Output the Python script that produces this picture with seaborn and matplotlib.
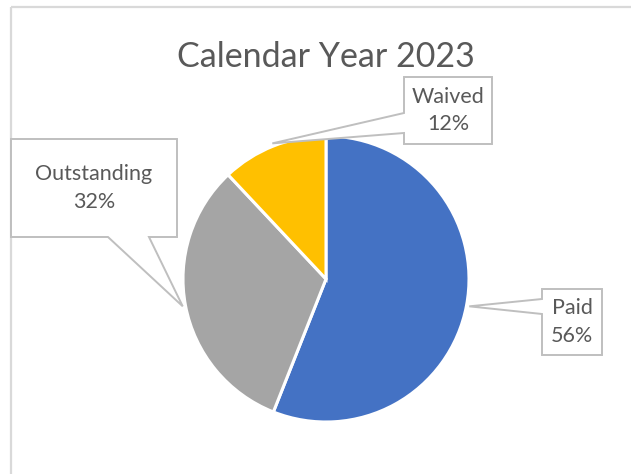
import numpy as np
import matplotlib
matplotlib.use("Agg")
import matplotlib.pyplot as plt
from matplotlib.patches import Polygon
import seaborn as sns

# Data
categories = ["Paid", "Outstanding", "Waived"]
shares = [56, 32, 12]
colors = ["#4472C4", "#A5A5A5", "#FFC000"]
title = "Calendar Year 2023"

sns.set_theme(style="white")
plt.rcParams["font.family"] = ["Lato", "DejaVu Sans"]

W, H = 631, 474
fig = plt.figure(figsize=(W / 100, H / 100), dpi=100)
ax = fig.add_axes([0, 0, 1, 1])
ax.set_xlim(0, W)
ax.set_ylim(0, H)
ax.set_aspect("equal")
ax.axis("off")

def Y(y):
    return H - y

# chart-area frame (top and left edges visible)
frame_c = "#D9D9D9"
ax.plot([11, W + 5], [Y(7), Y(7)], color=frame_c, lw=1.6, solid_capstyle="butt")
ax.plot([11, 11], [Y(7), Y(H + 5)], color=frame_c, lw=1.6, solid_capstyle="butt")

cx, cy, R = 326, 279, 143
ax.pie(shares, colors=colors, startangle=90, counterclock=False,
       center=(cx, Y(cy)), radius=R, frame=True,
       wedgeprops=dict(edgecolor="white", linewidth=2.2))
ax.set_xlim(0, W)
ax.set_ylim(0, H)
ax.axis("off")

ax.text(cx, Y(67), title, ha="center", va="baseline", fontsize=24.5,
        color="#595959")

# callout boxes: (left, top, right, bottom), pointer side and attach offsets
boxes = {
    "Paid": dict(box=(542, 289, 602, 355), side="left", a=(299, 314)),
    "Outstanding": dict(box=(11, 139, 177, 237), side="bottom", a=(108, 149)),
    "Waived": dict(box=(404, 77, 492, 144), side="left", a=(113, 133)),
}

total = sum(shares)
start = 0.0
for cat, val in zip(categories, shares):
    frac = val / total
    mid = (start + frac / 2) * 2 * np.pi
    start += frac
    tip_r = R * 1.02
    tx = cx + tip_r * np.sin(mid)
    ty = cy - tip_r * np.cos(mid)
    b = boxes[cat]
    l, t, r, btm = b["box"]
    a1, a2 = b["a"]
    if b["side"] == "left":
        pts = [(l, t), (r, t), (r, btm), (l, btm), (l, a2), (tx, ty), (l, a1)]
    else:
        pts = [(l, t), (r, t), (r, btm), (a2, btm), (tx, ty), (a1, btm), (l, btm)]
    poly = Polygon([(x, Y(y)) for x, y in pts], closed=True, facecolor="white",
                   edgecolor="#BFBFBF", linewidth=1.4, joinstyle="miter", zorder=5)
    ax.add_patch(poly)
    ax.text((l + r) / 2, Y((t + btm) / 2), f"{cat}\n{val}%", ha="center",
            va="center", multialignment="center", fontsize=15.5, color="#595959",
            linespacing=1.45, zorder=6)

fig.savefig("out.png", dpi=100, facecolor="white")
